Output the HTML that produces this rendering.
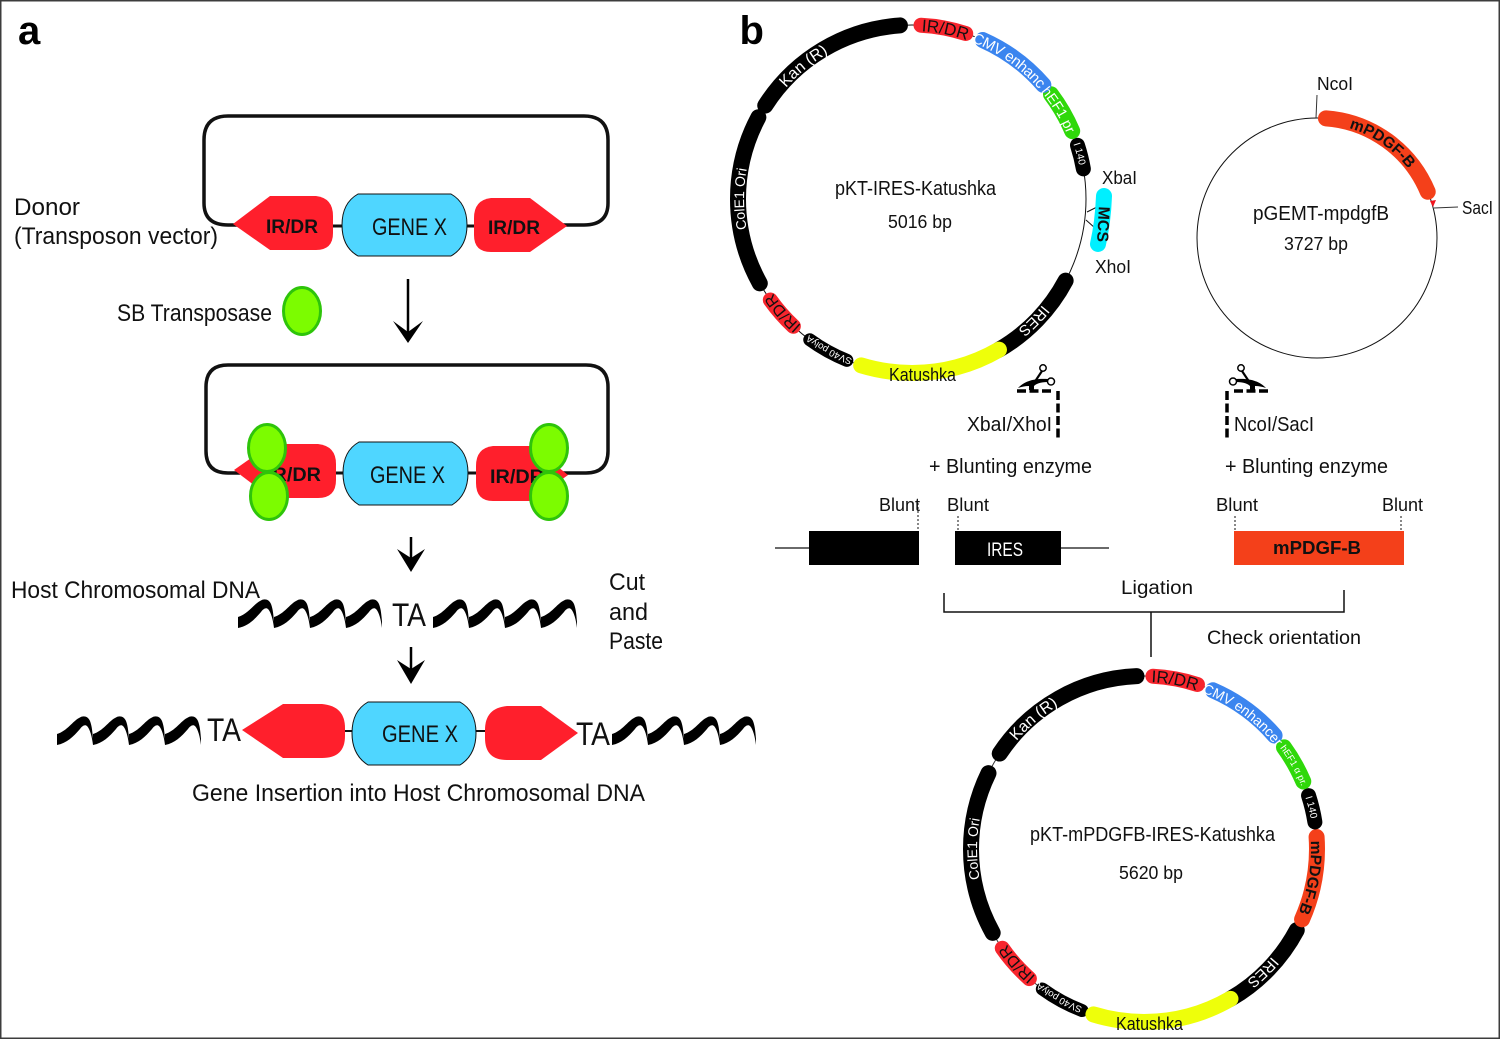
<!DOCTYPE html>
<html><head><meta charset="utf-8"><style>
html,body{margin:0;padding:0;background:#fff;overflow:hidden}
svg{display:block;font-family:"Liberation Sans",sans-serif}
.a{fill:none;stroke-linecap:round;stroke-width:16}
.w{fill:#fff}
.k{fill:#111}
</style></head><body>
<svg width="1500" height="1039" viewBox="0 0 1500 1039" xmlns="http://www.w3.org/2000/svg">
<defs>
<path id="w" d="M0 19C10 16 16 6 22 3C26 0 31 1 33 6C35 11 35.500 18 36 24L36 30C35 22 33 14 30 11C28 9 25 11 23 14C16 22 10 28 0 30Z" fill="#000"/>
<g id="dna"><use href="#w"/><use href="#w" x="36"/><use href="#w" x="72"/><use href="#w" x="108"/></g>
<path id="a1" d="M0 168A168 168 0 1 1 0 -168A168 168 0 1 1 0 168"/>
<path id="a1s" d="M0 170.500A170.500 170.500 0 1 1 0 -170.500A170.500 170.500 0 1 1 0 170.500"/>
<path id="a2" d="M0 167A167 167 0 1 1 0 -167A167 167 0 1 1 0 167"/>
<path id="a2s" d="M0 169.500A169.500 169.500 0 1 1 0 -169.500A169.500 169.500 0 1 1 0 169.500"/>
<path id="a3" d="M0 114.500A114.500 114.500 0 1 1 0 -114.500A114.500 114.500 0 1 1 0 114.500"/>
<g id="sc"><path d="M1018 388C1024 382 1032 378 1048 379L1048 382C1040 382 1036 384 1034 386L1034 390L1029 390L1029 386C1025 386 1021 387 1018 388Z" fill="#000"/><path d="M1042 371L1034 383" stroke="#000" stroke-width="2.2"/><circle cx="1043" cy="368" r="3.2" fill="#fff" stroke="#000" stroke-width="1.5"/><circle cx="1051" cy="381.500" r="3.5" fill="#fff" stroke="#000" stroke-width="1.5"/></g>
</defs>
<rect x="0.75" y="0.75" width="1498.5" height="1037.5" fill="#fff" stroke="#3c3c3c" stroke-width="1.5"/>

<text x="18" y="44" font-size="40" font-weight="bold" fill="#000">a</text>
<text x="739.500" y="44" font-size="40" font-weight="bold" fill="#000">b</text>

<!-- Donor -->
<path d="M240 225H228Q204 225 204 203V140Q204 116 228 116H584Q608 116 608 140V203Q608 225 584 225H560" fill="none" stroke="#111" stroke-width="3.5"/>
<path d="M333 226H343M467 226H475" stroke="#111" stroke-width="3"/>
<path d="M233 224L270 196H316Q333 198 333 216V233Q333 250 316 250H270Z" fill="#ff1f2c"/>
<path d="M567 226L530 198H491Q474 200 474 218V235Q474 252 491 252H530Z" fill="#ff1f2c"/>
<path d="M358 194H451Q467 203 467 225Q467 247 451 256H358Q342 247 342 225Q342 203 358 194Z" fill="#4fd6ff" stroke="#111" stroke-width="1"/>
<text x="266" y="233" font-size="19" font-weight="bold" fill="#111" textLength="52" lengthAdjust="spacingAndGlyphs">IR/DR</text>
<text x="488" y="234" font-size="19" font-weight="bold" fill="#111" textLength="52" lengthAdjust="spacingAndGlyphs">IR/DR</text>
<text x="372" y="235" font-size="24" fill="#111" textLength="75" lengthAdjust="spacingAndGlyphs">GENE X</text>
<text x="14" y="215" font-size="24" fill="#111" textLength="66" lengthAdjust="spacingAndGlyphs">Donor</text>
<text x="14" y="244" font-size="24" fill="#111" textLength="204" lengthAdjust="spacingAndGlyphs">(Transposon vector)</text>
<text x="117" y="321" font-size="24" fill="#111" textLength="155" lengthAdjust="spacingAndGlyphs">SB Transposase</text>
<ellipse cx="302" cy="311" rx="18.5" ry="23.5" fill="#7cfc00" stroke="#2ec40a" stroke-width="3"/>
<path d="M408 279V335" stroke="#000" stroke-width="2.5"/><path d="M408 343L393 321L408 332L423 321Z" fill="#000"/>

<!-- second -->
<path d="M240 473H228Q206 473 206 451V387Q206 365 228 365H586Q608 365 608 387V451Q608 473 586 473H560" fill="none" stroke="#111" stroke-width="3.5"/>
<path d="M336 473H344M468 473H476" stroke="#111" stroke-width="3"/>
<path d="M234 470L271 444H318Q336 446 336 464V480Q336 498 318 498H271Z" fill="#ff1f2c"/>
<path d="M568 475L532 446H493Q476 448 476 466V483Q476 501 493 501H532Z" fill="#ff1f2c"/>
<path d="M359 442H452Q468 451 468 473Q468 495 452 505H359Q343 495 343 473Q343 451 359 442Z" fill="#4fd6ff" stroke="#111" stroke-width="1"/>
<text x="267" y="481" font-size="19" font-weight="bold" fill="#111" textLength="54" lengthAdjust="spacingAndGlyphs">IR/DR</text>
<text x="490" y="483" font-size="19" font-weight="bold" fill="#111" textLength="54" lengthAdjust="spacingAndGlyphs">IR/DR</text>
<text x="370" y="483" font-size="24" fill="#111" textLength="75" lengthAdjust="spacingAndGlyphs">GENE X</text>
<g fill="#7cfc00" stroke="#2ec40a" stroke-width="3">
<ellipse cx="267" cy="448" rx="18.5" ry="23.5"/><ellipse cx="269" cy="496" rx="18.5" ry="23.5"/>
<ellipse cx="549" cy="448" rx="18.5" ry="23.5"/><ellipse cx="549" cy="496" rx="18.5" ry="23.5"/>
</g>
<path d="M411 537V565" stroke="#000" stroke-width="2.5"/><path d="M411 572L397 549L411 558L425 549Z" fill="#000"/>
<text x="11" y="598" font-size="24" fill="#111" textLength="249" lengthAdjust="spacingAndGlyphs">Host Chromosomal DNA</text>
<use href="#dna" x="238" y="598"/><use href="#dna" x="433" y="598"/>
<text x="392" y="626" font-size="32" fill="#111" textLength="34" lengthAdjust="spacingAndGlyphs">TA</text>
<text x="609" y="590" font-size="24" fill="#111" textLength="36" lengthAdjust="spacingAndGlyphs">Cut</text>
<text x="609" y="620" font-size="24" fill="#111" textLength="39" lengthAdjust="spacingAndGlyphs">and</text>
<text x="609" y="649" font-size="24" fill="#111" textLength="54" lengthAdjust="spacingAndGlyphs">Paste</text>
<path d="M411 647V676" stroke="#000" stroke-width="2.5"/><path d="M411 684L397 660L411 669L425 660Z" fill="#000"/>

<!-- third -->
<use href="#dna" x="57" y="715"/><use href="#dna" x="612" y="715"/>
<text x="207" y="741" font-size="32" fill="#111" textLength="34" lengthAdjust="spacingAndGlyphs">TA</text>
<text x="576" y="745" font-size="32" fill="#111" textLength="34" lengthAdjust="spacingAndGlyphs">TA</text>
<path d="M345 731H352M476 731H485" stroke="#111" stroke-width="2"/>
<path d="M242 730L283 704H322Q345 706 345 728V736Q345 758 322 758H283Z" fill="#ff1f2c"/>
<path d="M578 733L541 706H507Q485 708 485 730V738Q485 760 507 760H541Z" fill="#ff1f2c"/>
<path d="M368 702H460Q476 711 476 733Q476 755 460 765H368Q352 755 352 733Q352 711 368 702Z" fill="#4fd6ff" stroke="#111" stroke-width="1"/>
<text x="382" y="742" font-size="24" fill="#111" textLength="76" lengthAdjust="spacingAndGlyphs">GENE X</text>
<text x="192" y="801" font-size="24" fill="#111" textLength="453" lengthAdjust="spacingAndGlyphs">Gene Insertion into Host Chromosomal DNA</text>

<!-- Plasmid 1 -->
<g transform="translate(912 199)">
<circle r="174" fill="none" stroke="#111" stroke-width="1"/>
<circle class="a" r="174" stroke="#000" pathLength="360" stroke-dasharray="53.500 306.500" stroke-dashoffset="-212.500"/>
<circle class="a" r="174" stroke="#000" pathLength="360" stroke-dasharray="57 303" stroke-dashoffset="-151"/>
<circle class="a" r="174" stroke="#f7252d" style="stroke-width:15" pathLength="360" stroke-dasharray="11.500 348.500" stroke-dashoffset="-133"/>
<circle class="a" r="174" stroke="#000" style="stroke-width:13" pathLength="360" stroke-dasharray="14 346" stroke-dashoffset="-112"/>
<circle class="a" r="174" stroke="#000" pathLength="360" stroke-dasharray="32 328" stroke-dashoffset="-28"/>
<circle class="a" r="174" stroke="#eeff0a" pathLength="360" stroke-dasharray="47 313" stroke-dashoffset="-60"/>
<circle class="a" r="174" stroke="#000" style="stroke-width:15" pathLength="360" stroke-dasharray="8 352" stroke-dashoffset="18"/>
<circle class="a" r="174" stroke="#2fd80a" pathLength="360" stroke-dasharray="14 346" stroke-dashoffset="37"/>
<circle class="a" r="174" stroke="#3b85ef" pathLength="360" stroke-dasharray="25 335" stroke-dashoffset="66"/>
<circle class="a" r="174" stroke="#f7252d" style="stroke-width:15" pathLength="360" stroke-dasharray="15 345" stroke-dashoffset="87"/>
<g text-anchor="middle">
<text class="w" font-size="16"><textPath href="#a1" startOffset="39.1%">Kan (R)</textPath></text>
<text class="k" font-size="17"><textPath href="#a1" startOffset="53.1%">IR/DR</textPath></text>
<text class="w" font-size="15" letter-spacing="-.4"><textPath href="#a1" startOffset="59.7%">CMV enhanc</textPath></text>
<text class="w" font-size="14"><textPath href="#a1" startOffset="66.3%">hEF1 pr</textPath></text>
<text class="w" font-size="10"><textPath href="#a1s" startOffset="70.8%">I 140</textPath></text>
<text class="w" font-size="15"><textPath href="#a1" startOffset="87.5%">IRES</textPath></text>
<text class="w" font-size="9.5"><textPath href="#a1s" startOffset="8%">SV40 polyA</textPath></text>
<text class="k" font-size="16"><textPath href="#a1" startOffset="13.5%">IR/DR</textPath></text>
<text class="w" font-size="14"><textPath href="#a1" startOffset="25%">ColE1 Ori</textPath></text>
</g>
</g>
<text x="889" y="381" font-size="18" fill="#111" textLength="67" lengthAdjust="spacingAndGlyphs">Katushka</text>
<path d="M1087 212L1097 207M1086 220L1095 228" stroke="#111" stroke-width="1" fill="none"/>
<path d="M1104 196Q1103 222 1098 244" fill="none" stroke="#00f0ff" stroke-width="16" stroke-linecap="round"/>
<text transform="translate(1098 224) rotate(93)" text-anchor="middle" font-size="16" font-weight="bold" fill="#111">MCS</text>
<text x="1102" y="184" font-size="18" fill="#111" textLength="35" lengthAdjust="spacingAndGlyphs">XbaI</text>
<text x="1095" y="273" font-size="18" fill="#111" textLength="36" lengthAdjust="spacingAndGlyphs">XhoI</text>
<text x="835" y="195" font-size="20" fill="#111" textLength="161" lengthAdjust="spacingAndGlyphs">pKT-IRES-Katushka</text>
<text x="888" y="228" font-size="18" fill="#111" textLength="64" lengthAdjust="spacingAndGlyphs">5016 bp</text>

<!-- Plasmid pGEMT -->
<g transform="translate(1317 238)">
<circle r="120" fill="none" stroke="#111" stroke-width="1"/>
<circle r="120" fill="none" stroke="#f4401a" stroke-width="16" stroke-linecap="round" pathLength="360" stroke-dasharray="63 297" stroke-dashoffset="85.700"/>
<text text-anchor="middle" font-size="15.5" font-weight="bold" fill="#111"><textPath href="#a3" startOffset="59.6%">mPDGF-B</textPath></text>
</g>
<path d="M1430 201L1436 200L1433 207Z" fill="#f0141e"/>
<path d="M1316 118L1317 95M1434 208L1458 207" stroke="#333" stroke-width="1"/>
<text x="1317" y="90" font-size="18" fill="#111" textLength="36" lengthAdjust="spacingAndGlyphs">NcoI</text>
<text x="1462" y="214" font-size="18" fill="#111" textLength="31" lengthAdjust="spacingAndGlyphs">SacI</text>
<text x="1253" y="220" font-size="20" fill="#111" textLength="136" lengthAdjust="spacingAndGlyphs">pGEMT-mpdgfB</text>
<text x="1284" y="250" font-size="18" fill="#111" textLength="64" lengthAdjust="spacingAndGlyphs">3727 bp</text>

<!-- Scissors and dashes -->
<use href="#sc"/>
<use href="#sc" transform="translate(2284 0) scale(-1 1)"/>
<path d="M1017 391H1053M1058 391V440" fill="none" stroke="#000" stroke-width="3.5" stroke-dasharray="9 3.5"/>
<path d="M1268 391H1233M1227 391V440" fill="none" stroke="#000" stroke-width="3.5" stroke-dasharray="9 3.5"/>
<text x="967" y="431" font-size="20" fill="#111" textLength="85" lengthAdjust="spacingAndGlyphs">XbaI/XhoI</text>
<text x="1234" y="431" font-size="20" fill="#111" textLength="80" lengthAdjust="spacingAndGlyphs">NcoI/SacI</text>
<text x="929" y="473" font-size="20" fill="#111" textLength="163" lengthAdjust="spacingAndGlyphs">+ Blunting enzyme</text>
<text x="1225" y="473" font-size="20" fill="#111" textLength="163" lengthAdjust="spacingAndGlyphs">+ Blunting enzyme</text>

<g font-size="18" fill="#111">
<text x="879" y="511" textLength="41" lengthAdjust="spacingAndGlyphs">Blunt</text>
<text x="947" y="511" textLength="42" lengthAdjust="spacingAndGlyphs">Blunt</text>
<text x="1216" y="511" textLength="42" lengthAdjust="spacingAndGlyphs">Blunt</text>
<text x="1382" y="511" textLength="41" lengthAdjust="spacingAndGlyphs">Blunt</text>
</g>
<path d="M918 503V531M958 516V531M1235 516V531M1401 516V531" stroke="#111" stroke-width="1" stroke-dasharray="2 2"/>
<path d="M775 548H809M1061 548H1109" stroke="#111" stroke-width="1.2"/>
<rect x="809" y="531" width="110" height="34" fill="#000"/>
<rect x="955" y="531" width="106" height="34" fill="#000"/>
<rect x="1234" y="531" width="170" height="34" fill="#f4401a"/>
<text x="987" y="556" font-size="19" fill="#fff" textLength="36" lengthAdjust="spacingAndGlyphs">IRES</text>
<text x="1273" y="554" font-size="18" font-weight="bold" fill="#111" textLength="88" lengthAdjust="spacingAndGlyphs">mPDGF-B</text>
<path d="M944 593V612H1344V590M1151 612V657" fill="none" stroke="#111" stroke-width="1.5"/>
<text x="1121" y="594" font-size="19" fill="#111" textLength="72" lengthAdjust="spacingAndGlyphs">Ligation</text>
<text x="1207" y="644" font-size="19" fill="#111" textLength="154" lengthAdjust="spacingAndGlyphs">Check orientation</text>

<!-- Plasmid 2 -->
<g transform="translate(1144 849)">
<circle r="173" fill="none" stroke="#333" stroke-width="1"/>
<circle class="a" r="173" stroke="#000" pathLength="360" stroke-dasharray="54 306" stroke-dashoffset="-213.500"/>
<circle class="a" r="173" stroke="#000" pathLength="360" stroke-dasharray="55 305" stroke-dashoffset="-151"/>
<circle class="a" r="173" stroke="#f7252d" style="stroke-width:15" pathLength="360" stroke-dasharray="13.500 346.500" stroke-dashoffset="-131.500"/>
<circle class="a" r="173" stroke="#000" style="stroke-width:13" pathLength="360" stroke-dasharray="15 345" stroke-dashoffset="-111"/>
<circle class="a" r="173" stroke="#000" pathLength="360" stroke-dasharray="32 328" stroke-dashoffset="-28"/>
<circle class="a" r="173" stroke="#eeff0a" pathLength="360" stroke-dasharray="47 313" stroke-dashoffset="-60"/>
<circle class="a" r="173" stroke="#f4401a" pathLength="360" stroke-dasharray="28 332" stroke-dashoffset="4"/>
<circle class="a" r="173" stroke="#000" style="stroke-width:15" pathLength="360" stroke-dasharray="9 351" stroke-dashoffset="18"/>
<circle class="a" r="173" stroke="#2fd80a" pathLength="360" stroke-dasharray="13 347" stroke-dashoffset="36"/>
<circle class="a" r="173" stroke="#3b85ef" pathLength="360" stroke-dasharray="25.500 334.500" stroke-dashoffset="66.500"/>
<circle class="a" r="173" stroke="#f7252d" style="stroke-width:15" pathLength="360" stroke-dasharray="15 345" stroke-dashoffset="87"/>
<g text-anchor="middle">
<text class="w" font-size="16"><textPath href="#a2" startOffset="38.8%">Kan (R)</textPath></text>
<text class="k" font-size="17"><textPath href="#a2" startOffset="52.9%">IR/DR</textPath></text>
<text class="w" font-size="14"><textPath href="#a2" startOffset="60.1%">CMV enhancer</textPath></text>
<text class="w" font-size="9.5"><textPath href="#a2s" startOffset="66.9%">hEF1 α pr.</textPath></text>
<text class="w" font-size="10"><textPath href="#a2s" startOffset="71.1%">I 140</textPath></text>
<text class="k" font-size="15.5" font-weight="bold"><textPath href="#a2" startOffset="77.7%">mPDGF-B</textPath></text>
<text class="w" font-size="15"><textPath href="#a2" startOffset="87.8%">IRES</textPath></text>
<text class="w" font-size="9.5"><textPath href="#a2s" startOffset="8.25%">SV40 polyA</textPath></text>
<text class="k" font-size="16"><textPath href="#a2" startOffset="13.3%">IR/DR</textPath></text>
<text class="w" font-size="14"><textPath href="#a2" startOffset="25%">ColE1 Ori</textPath></text>
</g>
</g>
<text x="1116" y="1030" font-size="18" fill="#111" textLength="67" lengthAdjust="spacingAndGlyphs">Katushka</text>
<text x="1030" y="841" font-size="20" fill="#111" textLength="245" lengthAdjust="spacingAndGlyphs">pKT-mPDGFB-IRES-Katushka</text>
<text x="1119" y="879" font-size="18" fill="#111" textLength="64" lengthAdjust="spacingAndGlyphs">5620 bp</text>
</svg>
</body></html>
